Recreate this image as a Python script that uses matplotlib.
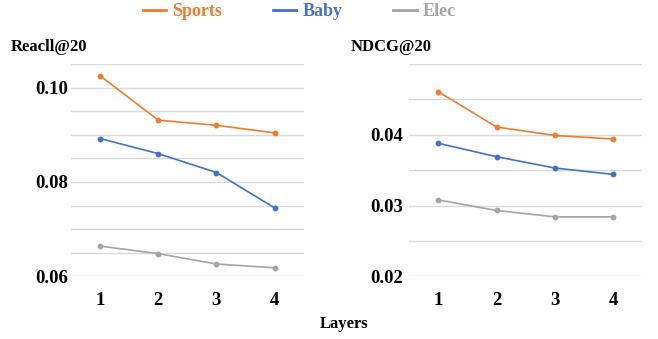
import numpy as np
import matplotlib.pyplot as plt
from matplotlib.ticker import MultipleLocator

plt.rcParams['font.family'] = ['Liberation Serif', 'DejaVu Serif']
plt.rcParams['font.weight'] = 'bold'

# data
layers = [1, 2, 3, 4]
series = ["Sports", "Baby", "Elec"]
colors = ["#ED7D31", "#4472C4", "#A5A5A5"]

recall_sports = [0.1025, 0.0931, 0.0920, 0.0904]
recall_baby = [0.0892, 0.0860, 0.0820, 0.0745]
recall_elec = [0.0664, 0.0648, 0.0626, 0.0618]
recall_ticks = [0.06, 0.08, 0.10]

ndcg_sports = [0.0461, 0.0411, 0.0399, 0.0394]
ndcg_baby = [0.0388, 0.0369, 0.0353, 0.0344]
ndcg_elec = [0.0308, 0.0293, 0.0284, 0.0284]
ndcg_ticks = [0.02, 0.03, 0.04]

fig = plt.figure(figsize=(6.58, 3.39), dpi=100)
ax1 = fig.add_axes([0.1079, 0.1850, 0.3536, 0.6262])
ax2 = fig.add_axes([0.6216, 0.1850, 0.3546, 0.6262])


def draw(ax, data, ylim, ticks, minor):
    for vals, c, name in zip(data, colors, series):
        ax.plot(layers, vals, color=c, lw=1.2, marker='o', ms=3.2, label=name)
    ax.set_xlim(0.5, 4.5)
    ax.set_ylim(*ylim)
    ax.set_xticks(layers)
    ax.set_yticks(ticks)
    ax.set_yticklabels(['%.2f' % t for t in ticks])
    ax.yaxis.set_minor_locator(MultipleLocator(minor))
    ax.grid(True, which='both', axis='y', color='#D9D9D9', lw=1.0)
    ax.set_axisbelow(True)
    for s in ax.spines.values():
        s.set_visible(False)
    ax.tick_params(axis='both', which='both', length=0, labelsize=13.5)
    ax.tick_params(axis='x', pad=11)
    ax.tick_params(axis='y', pad=2)


draw(ax1, [recall_sports, recall_baby, recall_elec], (0.06, 0.105), recall_ticks, 0.005)
draw(ax2, [ndcg_sports, ndcg_baby, ndcg_elec], (0.02, 0.05), ndcg_ticks, 0.005)
ax2.tick_params(axis='y', pad=4)

fig.text(11 / 658, 1 - 47 / 339, "Reacll@20", fontsize=12, fontweight='bold', va='center', ha='left')
fig.text(351 / 658, 1 - 47 / 339, "NDCG@20", fontsize=12, fontweight='bold', va='center', ha='left')
fig.text(344 / 658, 1 - 324 / 339, "Layers", fontsize=12, fontweight='bold', va='center', ha='center')

handles, labels = ax1.get_legend_handles_labels()
leg = fig.legend(handles, labels, loc='center', bbox_to_anchor=(0.455, 1 - 12 / 339),
                 ncol=3, frameon=False, fontsize=13, handlelength=1.3,
                 handletextpad=0.35, columnspacing=2.8, labelcolor=colors)
for h in leg.legend_handles:
    h.set_marker('')
    h.set_linewidth(2)

fig.savefig("out.png", dpi=100)
